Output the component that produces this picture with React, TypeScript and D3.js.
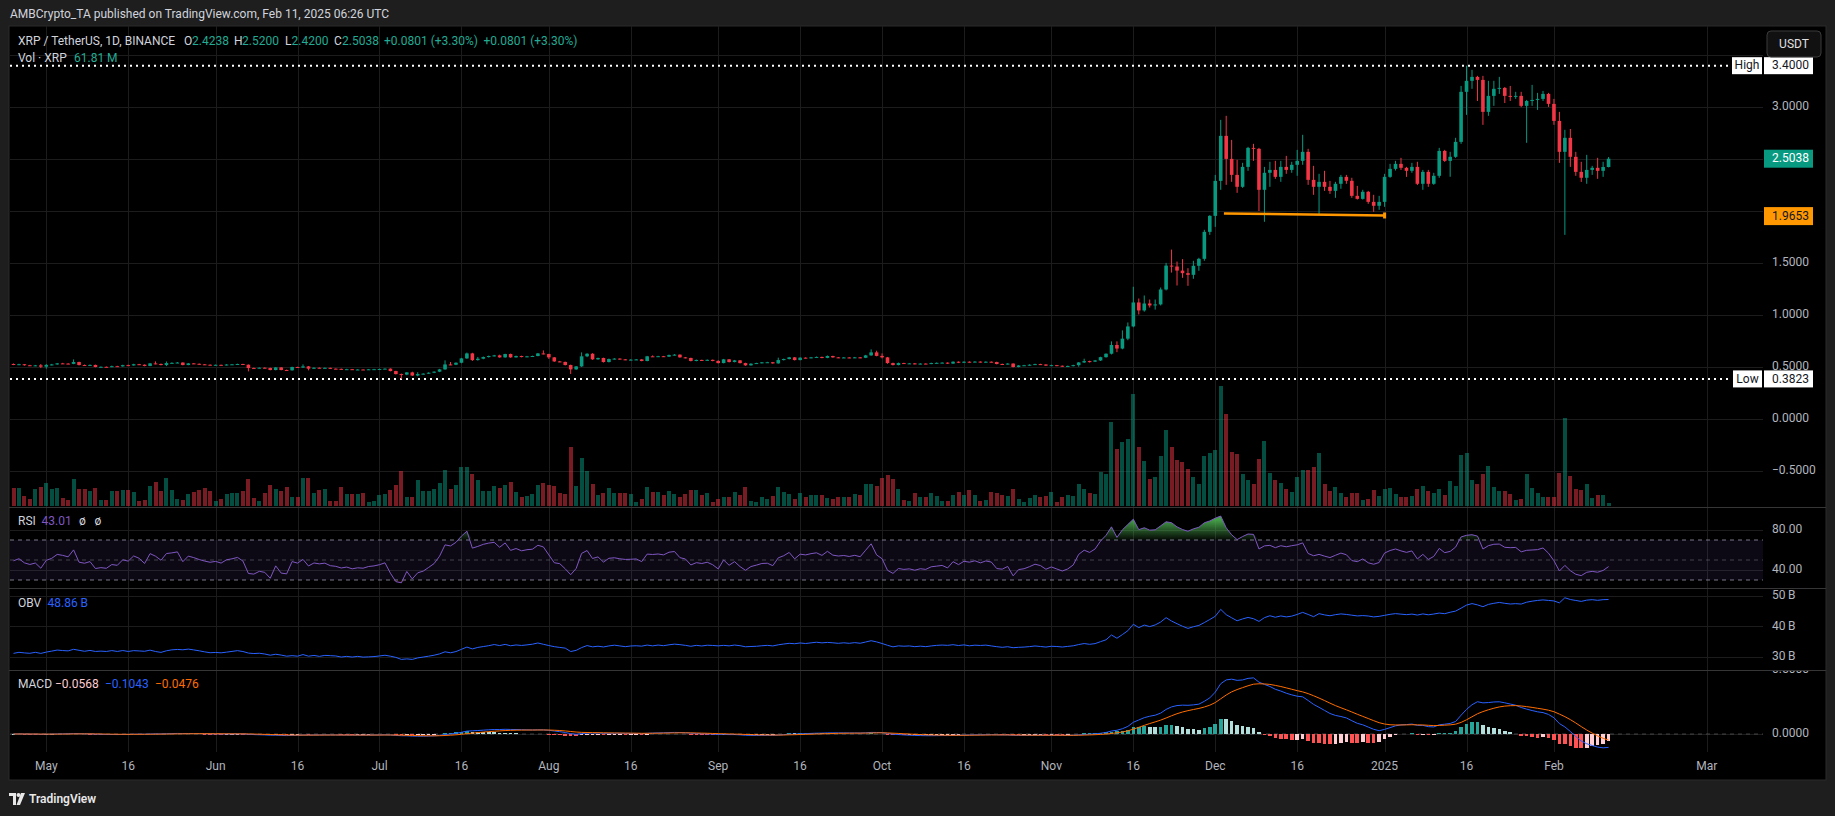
import React, { useEffect } from 'react';
import * as d3 from 'd3';

const W = 1835;
const H = 816;

// first candle: 2024-04-25 (daily, XRP/USDT Binance)
const START_DATE = Date.UTC(2024, 3, 25);

const openPrices = [
  .526,.519,.524,.514,.510,.513,.500,.517,.522,.532,
  .530,.527,.545,.516,.513,.517,.497,.499,.497,.505,
  .503,.515,.512,.524,.519,.507,.532,.526,.516,.535,
  .537,.540,.516,.532,.528,.523,.519,.516,.518,.514,
  .521,.523,.526,.519,.487,.485,.490,.487,.468,.493,
  .468,.465,.497,.492,.503,.481,.490,.487,.489,.481,
  .479,.474,.476,.471,.473,.472,.475,.476,.478,.481,
  .458,.429,.424,.445,.415,.429,.433,.442,.452,.474,
  .522,.519,.538,.580,.628,.564,.577,.593,.603,.609,
  .590,.622,.590,.603,.593,.600,.603,.628,.622,.590,
  .551,.546,.516,.474,.503,.600,.625,.571,.584,.545,
  .574,.578,.571,.567,.568,.570,.555,.600,.598,.601,
  .597,.612,.616,.590,.584,.555,.565,.561,.566,.555,
  .535,.571,.545,.561,.535,.513,.529,.535,.542,.543,
  .532,.564,.574,.590,.564,.587,.584,.590,.594,.585,
  .603,.590,.587,.589,.586,.590,.586,.609,.638,.604,
  .590,.535,.516,.535,.530,.532,.525,.530,.527,.535,
  .537,.539,.530,.548,.538,.548,.545,.549,.543,.548,
  .545,.526,.524,.530,.497,.512,.514,.519,.525,.521,
  .510,.515,.509,.503,.507,.515,.541,.554,.549,.560,
  .592,.625,.709,.675,.770,.888,1.119,1.042,1.109,1.090,
  1.100,1.244,1.474,1.465,1.426,1.401,1.385,1.472,1.539,1.799,
  1.953,2.290,2.724,2.502,2.348,2.233,2.425,2.608,2.599,2.204,
  2.368,2.396,2.329,2.425,2.396,2.445,2.483,2.570,2.300,2.233,
  2.281,2.233,2.194,2.262,2.329,2.291,2.146,2.117,2.185,2.088,
  2.050,2.088,2.329,2.406,2.454,2.416,2.387,2.425,2.262,2.377,
  2.262,2.339,2.579,2.483,2.522,2.666,3.148,3.254,3.292,3.263,
  2.955,3.109,3.177,3.186,3.109,3.100,3.109,3.013,3.060,3.070,
  3.080,3.128,3.032,2.868,2.570,2.705,2.522,2.377,2.320,2.396,
  2.416,2.387,2.4238,
];

const highPrices = [
  .531,.528,.526,.518,.517,.526,.526,.527,.536,.537,
  .534,.570,.548,.521,.522,.520,.503,.502,.510,.509,
  .519,.520,.528,.527,.522,.536,.551,.531,.550,.542,
  .545,.542,.536,.535,.531,.526,.522,.521,.520,.524,
  .526,.529,.528,.522,.492,.493,.494,.491,.496,.496,
  .472,.500,.500,.522,.507,.494,.493,.493,.491,.484,
  .482,.480,.478,.477,.476,.478,.479,.481,.484,.484,
  .461,.434,.448,.452,.447,.437,.446,.456,.479,.561,
  .545,.542,.585,.636,.634,.594,.598,.607,.614,.616,
  .625,.626,.607,.606,.604,.606,.632,.657,.625,.593,
  .556,.549,.520,.506,.638,.630,.630,.587,.587,.578,
  .582,.581,.574,.573,.574,.573,.604,.609,.605,.604,
  .617,.621,.619,.594,.587,.569,.568,.570,.569,.563,
  .575,.574,.565,.564,.538,.533,.538,.545,.547,.546,
  .587,.578,.594,.593,.591,.590,.594,.598,.597,.608,
  .606,.593,.593,.592,.594,.593,.614,.667,.654,.628,
  .594,.539,.540,.538,.536,.536,.534,.533,.539,.541,
  .543,.542,.552,.551,.552,.551,.553,.552,.552,.551,
  .548,.530,.534,.533,.516,.518,.523,.529,.528,.524,
  .519,.517,.512,.511,.519,.545,.577,.558,.565,.596,
  .628,.744,.744,.850,.926,1.270,1.157,1.186,1.147,1.147,
  1.263,1.500,1.628,1.513,1.536,1.449,1.520,1.549,1.819,1.960,
  2.348,2.878,2.917,2.685,2.493,2.464,2.618,2.647,2.608,2.425,
  2.474,2.483,2.483,2.531,2.474,2.589,2.734,2.599,2.435,2.358,
  2.387,2.290,2.281,2.348,2.348,2.320,2.242,2.204,2.194,2.156,
  2.146,2.358,2.454,2.483,2.512,2.425,2.464,2.474,2.396,2.396,
  2.368,2.608,2.589,2.570,2.705,3.205,3.400,3.360,3.302,3.302,
  3.254,3.254,3.292,3.195,3.205,3.148,3.148,3.070,3.215,3.138,
  3.157,3.138,3.080,2.955,2.782,2.790,2.570,2.474,2.541,2.435,
  2.512,2.474,2.520,
];

const lowPrices = [
  .515,.515,.510,.507,.505,.487,.481,.512,.518,.527,
  .524,.524,.512,.510,.509,.494,.494,.494,.495,.500,
  .500,.510,.510,.516,.504,.505,.523,.513,.506,.531,
  .534,.513,.514,.525,.520,.516,.513,.513,.511,.512,
  .518,.520,.516,.455,.482,.483,.484,.465,.465,.465,
  .461,.462,.489,.488,.465,.478,.484,.484,.478,.476,
  .471,.471,.468,.469,.469,.470,.473,.474,.476,.455,
  .425,.3823,.418,.410,.408,.425,.430,.438,.448,.470,
  .515,.515,.533,.575,.555,.558,.572,.588,.598,.586,
  .586,.586,.587,.590,.591,.597,.600,.618,.575,.546,
  .543,.512,.430,.470,.498,.592,.566,.567,.540,.541,
  .570,.567,.563,.562,.565,.552,.552,.596,.595,.594,
  .594,.608,.586,.580,.551,.552,.557,.558,.552,.531,
  .532,.541,.542,.531,.509,.510,.526,.532,.539,.528,
  .529,.560,.570,.560,.561,.580,.581,.587,.581,.582,
  .586,.583,.584,.582,.583,.582,.583,.605,.600,.580,
  .528,.512,.513,.527,.527,.522,.522,.524,.524,.532,
  .534,.526,.527,.535,.535,.541,.542,.540,.540,.541,
  .522,.520,.521,.493,.494,.509,.511,.516,.517,.506,
  .506,.505,.499,.500,.503,.500,.536,.540,.545,.555,
  .587,.618,.640,.668,.755,.880,1.003,1.030,1.070,1.050,
  1.090,1.235,1.407,1.282,1.356,1.279,1.347,1.424,1.520,1.770,
  1.847,2.204,2.252,2.281,2.175,2.223,2.387,2.483,2.000,1.896,
  2.233,2.310,2.281,2.358,2.368,2.339,2.445,2.252,2.156,1.963,
  2.194,2.165,2.127,2.214,2.262,2.127,2.110,2.110,2.069,1.992,
  2.011,2.040,2.320,2.390,2.396,2.329,2.368,2.250,2.204,2.233,
  2.252,2.320,2.473,2.330,2.512,2.647,2.926,3.177,3.060,2.830,
  2.917,3.013,3.128,3.040,3.060,3.080,3.000,2.657,3.013,2.974,
  3.060,3.003,2.830,2.464,1.770,2.425,2.339,2.280,2.262,2.348,
  2.310,2.329,2.420,
];

const closePrices = [
  .519,.524,.514,.510,.513,.500,.517,.522,.532,.530,
  .527,.545,.516,.513,.517,.497,.499,.497,.505,.503,
  .515,.512,.524,.519,.507,.532,.526,.516,.535,.537,
  .540,.516,.532,.528,.523,.519,.516,.518,.514,.521,
  .523,.526,.519,.487,.485,.490,.487,.468,.493,.468,
  .465,.497,.492,.503,.481,.490,.487,.489,.481,.479,
  .474,.476,.471,.473,.472,.475,.476,.478,.481,.458,
  .429,.424,.445,.415,.429,.433,.442,.452,.474,.522,
  .519,.538,.580,.628,.564,.577,.593,.603,.609,.590,
  .622,.590,.603,.593,.600,.603,.628,.622,.590,.551,
  .546,.516,.474,.503,.600,.625,.571,.584,.545,.574,
  .578,.571,.567,.568,.570,.555,.600,.598,.601,.597,
  .612,.616,.590,.584,.555,.565,.561,.566,.555,.535,
  .571,.545,.561,.535,.513,.529,.535,.542,.543,.532,
  .564,.574,.590,.564,.587,.584,.590,.594,.585,.603,
  .590,.587,.589,.586,.590,.586,.609,.638,.604,.590,
  .535,.516,.535,.530,.532,.525,.530,.527,.535,.537,
  .539,.530,.548,.538,.548,.545,.549,.543,.548,.545,
  .526,.524,.530,.497,.512,.514,.519,.525,.521,.510,
  .515,.509,.503,.507,.515,.541,.554,.549,.560,.592,
  .625,.709,.675,.770,.888,1.119,1.042,1.109,1.090,1.100,
  1.244,1.474,1.465,1.426,1.401,1.385,1.472,1.539,1.799,1.953,
  2.290,2.724,2.502,2.348,2.233,2.425,2.608,2.599,2.204,2.368,
  2.396,2.329,2.425,2.396,2.445,2.483,2.570,2.300,2.233,2.281,
  2.233,2.194,2.262,2.329,2.291,2.146,2.117,2.185,2.088,2.050,
  2.088,2.329,2.406,2.454,2.416,2.387,2.425,2.262,2.377,2.262,
  2.339,2.579,2.483,2.522,2.666,3.148,3.254,3.292,3.263,2.955,
  3.109,3.177,3.186,3.109,3.100,3.109,3.013,3.060,3.070,3.080,
  3.128,3.032,2.868,2.570,2.705,2.522,2.377,2.320,2.396,2.416,
  2.387,2.4237,2.5038,
];

// volume in millions of XRP
const volumes = [
  342,342,190,133,323,361,437,323,342,152,
  114,513,323,323,285,342,114,114,285,285,
  304,304,266,95,114,380,456,285,532,304,
  133,114,228,266,304,342,285,95,133,228,
  247,247,285,513,152,95,247,399,323,285,
  361,171,171,532,532,247,304,323,95,95,
  361,228,228,228,247,76,95,209,228,304,
  399,665,171,171,494,285,285,323,437,684,
  323,399,741,741,608,494,285,285,380,342,
  399,456,266,171,190,228,399,437,399,380,
  247,228,1121,380,912,665,418,209,247,342,
  247,247,247,228,76,133,361,266,266,209,
  285,228,171,228,304,304,209,247,76,133,
  171,171,266,209,361,95,76,171,133,190,
  361,266,228,133,247,171,209,209,209,152,
  133,171,171,171,228,209,418,418,380,532,
  589,513,323,114,95,247,171,171,247,190,
  95,95,209,266,209,304,209,95,114,266,
  247,209,190,323,133,76,152,209,171,190,
  266,76,171,209,190,418,323,247,228,646,
  608,1596,1083,1216,1273,2128,1121,855,513,551,
  950,1444,1121,874,836,703,551,418,950,1007,
  1064,2280,1748,1026,988,608,494,418,893,1235,
  627,494,437,323,266,551,684,684,741,1007,
  418,285,361,247,171,247,247,114,133,304,
  190,323,342,228,171,171,190,323,380,285,
  247,323,209,475,380,969,1007,494,418,608,
  760,361,285,285,228,114,133,608,342,247,
  171,171,171,627,1672,570,323,304,418,152,
  209,209,61.81,
];

const timeTickDates = [
  '2024-05-01', '2024-05-16', '2024-06-01', '2024-06-16', '2024-07-01', '2024-07-16',
  '2024-08-01', '2024-08-16', '2024-09-01', '2024-09-16', '2024-10-01', '2024-10-16',
  '2024-11-01', '2024-11-16', '2024-12-01', '2024-12-16', '2025-01-01', '2025-01-16',
  '2025-02-01', '2025-03-01',
];
const timeTickLabels = [
  'May', '16', 'Jun', '16', 'Jul', '16', 'Aug', '16', 'Sep', '16', 'Oct', '16',
  'Nov', '16', 'Dec', '16', '2025', '16', 'Feb', 'Mar',
];
const priceTicks = [-0.5, 0, 0.5, 1, 1.5, 2, 2.5, 3, 3.5];
const rsiTicks = [40, 80];
const obvTicks = [30, 40, 50];
const macdTicks = [0, 0.5];

const trendLineDates = ['2024-12-02T14:00:00Z', '2025-01-01T00:00:00Z'];
const trendLinePrices = [1.976, 1.957];

const HIGH_PRICE = 3.4;
const LOW_PRICE = 0.3823;
const ORANGE_LEVEL = 1.9653;
const OBV_START = 31.1; // billions, value of OBV at first visible bar

// colours
const UP = '#089981';
const DOWN = '#F23645';
const GRID = '#1c1c1c';
const AXIS_TEXT = '#b2b5be';
const LEGEND_TEXT = '#d1d4dc';
const FONT = 'Roboto, "Noto Sans", "DejaVu Sans", sans-serif';

// layout
const PL = 10;
const PR = 1763;
const AXX = 1772;
const MAIN_TOP = 26;
const MAIN_BOTTOM = 506;
const RSI_TOP = 507;
const OBV_TOP = 588;
const MACD_TOP = 670;
const MACD_BOTTOM = 752;
const FRAME_BOTTOM = 780;
const FRAME_RIGHT = 1826;

function ema(values: number[], n: number): number[] {
  const k = 2 / (n + 1);
  const out: number[] = [];
  values.forEach((v, i) => {
    out.push(i === 0 ? v : v * k + out[i - 1] * (1 - k));
  });
  return out;
}

export default function App() {
  useEffect(() => {
    document.body.style.margin = '0';
    document.body.style.background = '#1e1e1e';
  }, []);

  const n = closePrices.length;
  const dates = d3.range(n).map((i) => new Date(START_DATE + i * 86400000));

  const x = d3
    .scaleUtc()
    .domain([new Date(Date.UTC(2024, 3, 25)), new Date(Date.UTC(2025, 2, 1))])
    .range([13.5, 1706.9]);
  const y = d3.scaleLinear().domain([0, 3]).range([418.6, 107.2]);
  const yVol = d3.scaleLinear().domain([0, 2280]).range([MAIN_BOTTOM, 386]);
  const yRsi = d3.scaleLinear().domain([40, 80]).range([570, 530]);
  const yObv = d3.scaleLinear().domain([30, 50]).range([656.7, 596]);
  const yMacd = d3.scaleLinear().domain([0, 0.5]).range([734, 670]);

  // ---- indicators from the price data ----
  // RSI 14 (Wilder)
  const changes = closePrices.map((c, i) => (i === 0 ? 0 : c - closePrices[i - 1]));
  let ag = d3.mean(changes.slice(1, 15).map((c) => Math.max(c, 0))) as number;
  let al = d3.mean(changes.slice(1, 15).map((c) => Math.max(-c, 0))) as number;
  const rsi: number[] = [];
  changes.forEach((c, i) => {
    if (i > 0) {
      ag = (ag * 13 + Math.max(c, 0)) / 14;
      al = (al * 13 + Math.max(-c, 0)) / 14;
    }
    rsi.push(al === 0 ? 100 : 100 - 100 / (1 + ag / al));
  });
  // OBV (billions)
  const obv: number[] = [];
  closePrices.forEach((c, i) => {
    if (i === 0) obv.push(OBV_START);
    else {
      const s = Math.sign(c - closePrices[i - 1]);
      obv.push(obv[i - 1] + (s * volumes[i]) / 1000);
    }
  });
  // MACD 12/26/9
  const e12 = ema(closePrices, 12);
  const e26 = ema(closePrices, 26);
  const macd = e12.map((v, i) => v - e26[i]);
  const signal = ema(macd, 9);
  const hist = macd.map((v, i) => v - signal[i]);

  const xi = (i: number) => x(dates[i]);

  const rsiLine = d3.line<number>().x((_, i) => xi(i)).y((v) => yRsi(v))(rsi) as string;
  const rsiOver = d3
    .area<number>()
    .x((_, i) => xi(i))
    .y0(yRsi(70))
    .y1((v) => yRsi(Math.max(v, 70)))(rsi) as string;
  const rsiUnder = d3
    .area<number>()
    .x((_, i) => xi(i))
    .y0(yRsi(30))
    .y1((v) => yRsi(Math.min(v, 30)))(rsi) as string;
  const obvLine = d3.line<number>().x((_, i) => xi(i)).y((v) => yObv(v))(obv) as string;
  const macdLine = d3.line<number>().x((_, i) => xi(i)).y((v) => yMacd(v))(macd) as string;
  const signalLine = d3.line<number>().x((_, i) => xi(i)).y((v) => yMacd(v))(signal) as string;

  const histColor = (i: number) => {
    const h = hist[i];
    const prev = i > 0 ? hist[i - 1] : h;
    if (h >= 0) return prev < h ? '#26A69A' : '#B2DFDB';
    return prev < h ? '#FFCDD2' : '#FF5252';
  };

  const tickDates = timeTickDates.map((d) => new Date(d + 'T00:00:00Z'));

  // price axis labels that do not collide with the value boxes
  const boxYs = [y(closePrices[n - 1]), y(ORANGE_LEVEL), y(HIGH_PRICE), y(LOW_PRICE)];
  const visiblePriceTicks = priceTicks.filter(
    (t) => y(t) > 60 && boxYs.every((b) => Math.abs(b - y(t)) > 10)
  );

  const fmt4 = (v: number) => (v < 0 ? '\u2212' + Math.abs(v).toFixed(4) : v.toFixed(4));

  const trendX = trendLineDates.map((d) => x(new Date(d)));
  const trendY = trendLinePrices.map((p) => y(p));

  const lastClose = closePrices[n - 1];

  return (
    <svg
      width={W}
      height={H}
      viewBox={`0 0 ${W} ${H}`}
      style={{ position: 'absolute', left: 0, top: 0, display: 'block' }}
      fontFamily={FONT}
    >
      <defs>
        <clipPath id="plotClip">
          <rect x={PL} y={MAIN_TOP} width={PR - PL} height={MAIN_BOTTOM - MAIN_TOP} />
        </clipPath>
        <clipPath id="allPlotClip">
          <rect x={PL} y={MAIN_TOP} width={PR - PL} height={MACD_BOTTOM - MAIN_TOP} />
        </clipPath>
        <clipPath id="macdAxisClip">
          <rect x={PR} y={MACD_TOP + 1} width={FRAME_RIGHT - PR} height={MACD_BOTTOM - MACD_TOP} />
        </clipPath>
        <linearGradient id="rsiOverGrad" gradientUnits="userSpaceOnUse" x1="0" x2="0" y1={yRsi(90)} y2={yRsi(70)}>
          <stop offset="0" stopColor="#4CAF50" stopOpacity="0.9" />
          <stop offset="1" stopColor="#4CAF50" stopOpacity="0.05" />
        </linearGradient>
        <linearGradient id="rsiUnderGrad" gradientUnits="userSpaceOnUse" x1="0" x2="0" y1={yRsi(30)} y2={yRsi(10)}>
          <stop offset="0" stopColor="#FF5252" stopOpacity="0.05" />
          <stop offset="1" stopColor="#FF5252" stopOpacity="0.9" />
        </linearGradient>
      </defs>

      {/* page background */}
      <rect x={0} y={0} width={W} height={H} fill="#1e1e1e" />
      <text x={10} y={15} fontSize={12} fill={LEGEND_TEXT} dominantBaseline="middle">
        AMBCrypto_TA published on TradingView.com, Feb 11, 2025 06:26 UTC
      </text>

      {/* chart frame */}
      <rect x={9} y={26} width={FRAME_RIGHT - 9} height={FRAME_BOTTOM - 26} fill="#000" stroke="#2a2a2a" strokeWidth={1} />

      {/* vertical grid */}
      <g stroke={GRID} strokeWidth={1}>
        {tickDates.map((d, i) => (
          <line key={i} x1={Math.round(x(d)) + 0.5} x2={Math.round(x(d)) + 0.5} y1={MAIN_TOP} y2={MACD_BOTTOM} />
        ))}
      </g>
      {/* horizontal grid */}
      <g stroke={GRID} strokeWidth={1}>
        {priceTicks.map((t) => (
          <line key={t} x1={PL} x2={PR} y1={Math.round(y(t)) + 0.5} y2={Math.round(y(t)) + 0.5} />
        ))}
        {rsiTicks.map((t) => (
          <line key={'r' + t} x1={PL} x2={PR} y1={Math.round(yRsi(t)) + 0.5} y2={Math.round(yRsi(t)) + 0.5} />
        ))}
        {obvTicks.map((t) => (
          <line key={'o' + t} x1={PL} x2={PR} y1={Math.round(yObv(t)) + 0.5} y2={Math.round(yObv(t)) + 0.5} />
        ))}
        {macdTicks.map((t) =>
          yMacd(t) > MACD_TOP ? (
            <line key={'m' + t} x1={PL} x2={PR} y1={Math.round(yMacd(t)) + 0.5} y2={Math.round(yMacd(t)) + 0.5} />
          ) : null
        )}
      </g>

      {/* volume bars */}
      <g clipPath="url(#plotClip)" shapeRendering="crispEdges">
        {volumes.map((v, i) => {
          const up = closePrices[i] >= openPrices[i];
          return (
            <rect
              key={i}
              x={xi(i) - 2}
              width={4}
              y={yVol(v)}
              height={MAIN_BOTTOM - yVol(v)}
              fill={up ? UP : DOWN}
              fillOpacity={0.5}
            />
          );
        })}
      </g>

      {/* high / low dotted lines */}
      <line x1={PL} x2={1731} y1={y(HIGH_PRICE)} y2={y(HIGH_PRICE)} stroke="#fff" strokeWidth={2} strokeDasharray="2 4" />
      <line x1={PL} x2={1731} y1={y(LOW_PRICE)} y2={y(LOW_PRICE)} stroke="#fff" strokeWidth={2} strokeDasharray="2 4" />

      {/* candles */}
      <g clipPath="url(#plotClip)">
        {closePrices.map((c, i) => {
          const o = openPrices[i];
          const up = c >= o;
          const col = up ? UP : DOWN;
          const cx = xi(i);
          const top = y(Math.max(o, c));
          const bot = y(Math.min(o, c));
          return (
            <g key={i}>
              <line x1={cx} x2={cx} y1={y(highPrices[i])} y2={y(lowPrices[i])} stroke={col} strokeWidth={1} />
              <rect x={cx - 1.8} width={3.6} y={top} height={Math.max(1, bot - top)} fill={col} />
            </g>
          );
        })}
      </g>

      {/* orange trend line */}
      <line x1={trendX[0]} y1={trendY[0]} x2={trendX[1]} y2={trendY[1]} stroke="#FF9800" strokeWidth={2.5} />
      <rect x={trendX[1] - 1.5} y={trendY[1] - 3} width={3} height={6} fill="#FF9800" />

      {/* pane separators */}
      <g stroke="#363636" strokeWidth={1}>
        <line x1={9} x2={FRAME_RIGHT} y1={RSI_TOP + 0.5} y2={RSI_TOP + 0.5} />
        <line x1={9} x2={FRAME_RIGHT} y1={OBV_TOP + 0.5} y2={OBV_TOP + 0.5} />
        <line x1={9} x2={FRAME_RIGHT} y1={MACD_TOP + 0.5} y2={MACD_TOP + 0.5} />
      </g>

      {/* RSI pane */}
      <rect x={PL} y={yRsi(70)} width={PR - PL} height={yRsi(30) - yRsi(70)} fill="#7E57C2" fillOpacity={0.1} />
      <g stroke="#787B86" strokeWidth={1} strokeDasharray="4 4">
        <line x1={PL} x2={PR} y1={yRsi(70)} y2={yRsi(70)} />
        <line x1={PL} x2={PR} y1={yRsi(50)} y2={yRsi(50)} strokeOpacity={0.5} />
        <line x1={PL} x2={PR} y1={yRsi(30)} y2={yRsi(30)} />
      </g>
      <g clipPath="url(#allPlotClip)">
        <path d={rsiOver} fill="url(#rsiOverGrad)" />
        <path d={rsiUnder} fill="url(#rsiUnderGrad)" />
        <path d={rsiLine} fill="none" stroke="#7E57C2" strokeWidth={1} />
        {/* OBV */}
        <path d={obvLine} fill="none" stroke="#2962FF" strokeWidth={1} />
        {/* MACD */}
        <line x1={PL} x2={PR} y1={yMacd(0)} y2={yMacd(0)} stroke="#787B86" strokeOpacity={0.5} strokeDasharray="4 4" />
        <g shapeRendering="crispEdges">
          {hist.map((h, i) => (
            <rect
              key={i}
              x={xi(i) - 1.8}
              width={3.6}
              y={Math.min(yMacd(h), yMacd(0))}
              height={Math.max(0.5, Math.abs(yMacd(h) - yMacd(0)))}
              fill={histColor(i)}
            />
          ))}
        </g>
        <path d={macdLine} fill="none" stroke="#2962FF" strokeWidth={1} />
        <path d={signalLine} fill="none" stroke="#FF6D00" strokeWidth={1} />
      </g>

      {/* price axis */}
      <g fontSize={12} fill={AXIS_TEXT} dominantBaseline="middle">
        {visiblePriceTicks.map((t) => (
          <text key={t} x={AXX} y={y(t)}>
            {fmt4(t)}
          </text>
        ))}
        {rsiTicks.map((t) => (
          <text key={'r' + t} x={AXX} y={yRsi(t)}>
            {t.toFixed(2)}
          </text>
        ))}
        {obvTicks.map((t) => (
          <text key={'o' + t} x={AXX} y={yObv(t)}>
            {t + '\u2009B'}
          </text>
        ))}
        <g clipPath="url(#macdAxisClip)">
          {macdTicks.map((t) => (
            <text key={'m' + t} x={AXX} y={yMacd(t)}>
              {fmt4(t)}
            </text>
          ))}
        </g>
      </g>

      {/* value boxes on the axis */}
      <g fontSize={12} dominantBaseline="middle">
        <rect x={1764} y={y(lastClose) - 9} width={49} height={18} fill={UP} />
        <text x={AXX} y={y(lastClose) + 0.5} fill="#fff">{lastClose.toFixed(4)}</text>

        <rect x={1764} y={y(ORANGE_LEVEL) - 9 + 1.5} width={49} height={18} fill="#FF9800" />
        <text x={AXX} y={y(ORANGE_LEVEL) + 2} fill="#131722">{ORANGE_LEVEL.toFixed(4)}</text>

        <rect x={1732} y={y(HIGH_PRICE) - 8.5} width={30} height={17} fill="#fff" />
        <text x={1747} y={y(HIGH_PRICE) + 0.5} fill="#131722" textAnchor="middle">High</text>
        <rect x={1764} y={y(HIGH_PRICE) - 8.5} width={49} height={17} fill="#fff" />
        <text x={AXX} y={y(HIGH_PRICE) + 0.5} fill="#131722">{HIGH_PRICE.toFixed(4)}</text>

        <rect x={1733} y={y(LOW_PRICE) - 8.5} width={29} height={17} fill="#fff" />
        <text x={1747.5} y={y(LOW_PRICE) + 0.5} fill="#131722" textAnchor="middle">Low</text>
        <rect x={1764} y={y(LOW_PRICE) - 8.5} width={49} height={17} fill="#fff" />
        <text x={AXX} y={y(LOW_PRICE) + 0.5} fill="#131722">{LOW_PRICE.toFixed(4)}</text>
      </g>

      {/* USDT button */}
      <rect x={1767} y={31} width={54} height={26} rx={4} fill="#111" stroke="#3a3a3a" />
      <text x={1794} y={44.5} fontSize={12} fill="#e0e0e0" textAnchor="middle" dominantBaseline="middle">
        USDT
      </text>

      {/* time axis */}
      <g fontSize={12} fill={AXIS_TEXT} textAnchor="middle" dominantBaseline="middle">
        {tickDates.map((d, i) => (
          <text key={i} x={x(d)} y={767}>
            {timeTickLabels[i]}
          </text>
        ))}
      </g>

      {/* legends */}
      <g fontSize={12} dominantBaseline="middle">
        <text x={18} y={42} fill={LEGEND_TEXT}>
          XRP / TetherUS, 1D, BINANCE
        </text>
        <text y={42}>
          <tspan x={184} fill={LEGEND_TEXT}>O</tspan>
          <tspan x={192} fill="#22ab94">2.4238</tspan>
          <tspan x={234} fill={LEGEND_TEXT}>H</tspan>
          <tspan x={242} fill="#22ab94">2.5200</tspan>
          <tspan x={285} fill={LEGEND_TEXT}>L</tspan>
          <tspan x={291.5} fill="#22ab94">2.4200</tspan>
          <tspan x={334} fill={LEGEND_TEXT}>C</tspan>
          <tspan x={342} fill="#22ab94">2.5038</tspan>
          <tspan x={384} fill="#22ab94">+0.0801 (+3.30%)</tspan>
          <tspan x={483.5} fill="#22ab94">+0.0801 (+3.30%)</tspan>
        </text>
        <text y={59}>
          <tspan x={18} fill={LEGEND_TEXT}>Vol · XRP</tspan>
          <tspan x={74} fill="#22ab94">61.81 M</tspan>
        </text>
        <text y={522}>
          <tspan x={18} fill={LEGEND_TEXT}>RSI</tspan>
          <tspan x={41.5} fill="#7E57C2">43.01</tspan>
          <tspan x={79} fill={LEGEND_TEXT}>ø</tspan>
          <tspan x={94.5} fill={LEGEND_TEXT}>ø</tspan>
        </text>
        <text y={604}>
          <tspan x={18} fill={LEGEND_TEXT}>OBV</tspan>
          <tspan x={47.5} fill="#2962FF">48.86 B</tspan>
        </text>
        <text y={685}>
          <tspan x={18} fill={LEGEND_TEXT}>MACD</tspan>
          <tspan x={55} fill="#FFCDD2">{'\u22120.0568'}</tspan>
          <tspan x={105} fill="#2962FF">{'\u22120.1043'}</tspan>
          <tspan x={155} fill="#FF6D00">{'\u22120.0476'}</tspan>
        </text>
      </g>

      {/* TradingView logo */}
      <g transform="translate(9,792)">
        <path d="M0 1 H7 V13 H4 V4 H0 Z" fill="#e8e8e8" />
        <circle cx={9.5} cy={3} r={2} fill="#e8e8e8" />
        <path d="M12 1 H16 L11 13 H7.5 Z" fill="#e8e8e8" />
        <text x={20} y={7.5} fontSize={12} fontWeight={600} fill="#e8e8e8" dominantBaseline="middle">
          TradingView
        </text>
      </g>
    </svg>
  );
}
